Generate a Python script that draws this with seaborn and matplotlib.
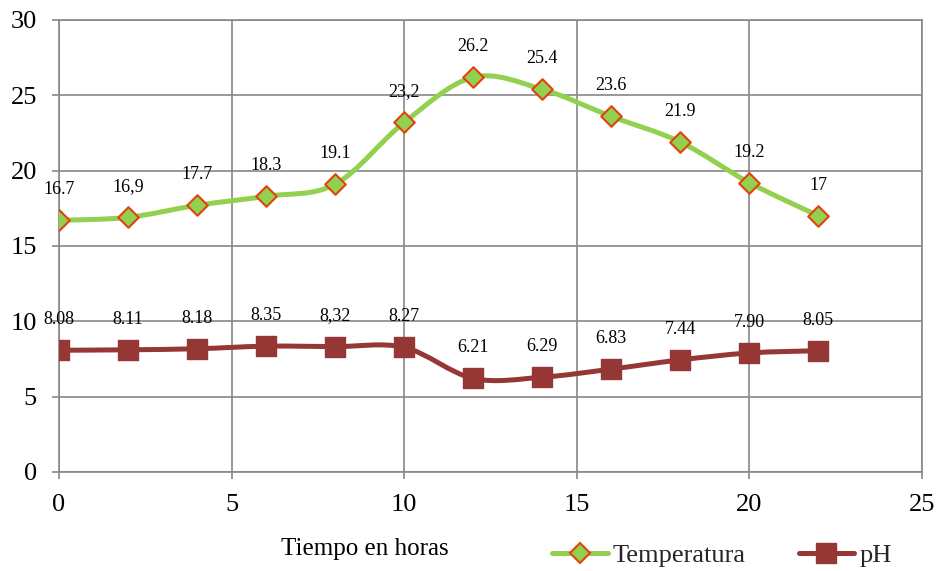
import numpy as np
import matplotlib
matplotlib.use("Agg")
import matplotlib.pyplot as plt
import seaborn as sns
from matplotlib.path import Path
from matplotlib.patches import PathPatch
from matplotlib.lines import Line2D

# ---- data ----
hours = [0, 2, 4, 6, 8, 10, 12, 14, 16, 18, 20, 22]
temperatura = [16.7, 16.9, 17.7, 18.3, 19.1, 23.2, 26.2, 25.4, 23.6, 21.9, 19.2, 17.0]
ph = [8.08, 8.11, 8.18, 8.35, 8.32, 8.27, 6.21, 6.29, 6.83, 7.44, 7.90, 8.05]
temp_labels = ["16.7", "16,9", "17.7", "18.3", "19.1", "23,2", "26.2", "25.4",
               "23.6", "21.9", "19.2", "17"]
ph_labels = ["8.08", "8.11", "8.18", "8.35", "8,32", "8.27", "6.21", "6.29",
             "6.83", "7.44", "7.90", "8.05"]
x_ticks = [0, 5, 10, 15, 20, 25]
y_ticks = [0, 5, 10, 15, 20, 25, 30]
series_names = ["Temperatura", "pH"]

# ---- style ----
GREEN = "#92D050"
ORANGE = "#E2420F"
DARKRED = "#953735"
GRID = "#878787"

sns.set_theme(style="white")
plt.rcParams['font.family'] = ['Liberation Serif', 'DejaVu Serif']

fig = plt.figure(figsize=(9.38, 5.71), dpi=100)
ax = fig.add_axes([0.0629, 0.1734, 0.920, 0.7916])


def smooth_path(xs, ys):
    pts = np.column_stack([xs, ys]).astype(float)
    n = len(pts)
    verts = [pts[0]]
    codes = [Path.MOVETO]
    for i in range(n - 1):
        p0 = pts[max(i - 1, 0)]
        p1 = pts[i]
        p2 = pts[i + 1]
        p3 = pts[min(i + 2, n - 1)]
        c1 = p1 + (p2 - p0) / 6.0
        c2 = p2 - (p3 - p1) / 6.0
        verts += [c1, c2, p2]
        codes += [Path.CURVE4] * 3
    return Path(verts, codes)


# smoothed lines
for ys, col in [(temperatura, GREEN), (ph, DARKRED)]:
    patch = PathPatch(smooth_path(hours, ys), fill=False, edgecolor=col, lw=3.6,
                      transform=ax.transData, capstyle='round', joinstyle='round', zorder=2)
    ax.add_patch(patch)

# markers
sns.scatterplot(x=hours, y=temperatura, marker='D', s=110, color=GREEN,
                edgecolor=ORANGE, linewidth=1.5, zorder=3, legend=False, ax=ax)
sns.scatterplot(x=hours, y=ph, marker='s', s=215, color=DARKRED,
                edgecolor=DARKRED, linewidth=1.0, zorder=3, legend=False, ax=ax)

# data labels
for xv, yv, lab in zip(hours, temperatura, temp_labels):
    ax.annotate(lab, (xv, yv), xytext=(0, 22), textcoords='offset points',
                ha='center', va='center', fontsize=13, color='black', zorder=4)
for xv, yv, lab in zip(hours, ph, ph_labels):
    ax.annotate(lab, (xv, yv), xytext=(0, 22), textcoords='offset points',
                ha='center', va='center', fontsize=13, color='black', zorder=4)

# axes
ax.set_xlim(0, 25)
ax.set_ylim(0, 30)
ax.set_xticks(x_ticks)
ax.set_yticks(y_ticks)
ax.grid(True, color=GRID, lw=1.2)
ax.set_axisbelow(True)
for sp in ax.spines.values():
    sp.set_visible(True)
    sp.set_color(GRID)
    sp.set_linewidth(1.2)
ax.tick_params(bottom=True, left=True, direction='out', length=5, width=1.2,
               color=GRID, pad=11, labelsize=19, labelcolor='black')

ax.set_xlabel("Tiempo en horas", fontsize=18, color='black')
ax.xaxis.set_label_coords(0.3546, -0.147)
ax.set_ylabel("")

# legend
handles = [
    Line2D([0], [0], color=GREEN, lw=3.6, marker='D', markersize=10,
           markerfacecolor=GREEN, markeredgecolor=ORANGE, markeredgewidth=1.5),
    Line2D([0], [0], color=DARKRED, lw=3.6, marker='s', markersize=14,
           markerfacecolor=DARKRED, markeredgecolor=DARKRED),
]
fig.legend(handles, series_names, loc='center', bbox_to_anchor=(722 / 938, 1 - 555 / 571),
           ncol=2, frameon=False, fontsize=19, handlelength=2.1, handletextpad=0.2,
           columnspacing=2.0, borderaxespad=0, borderpad=0)

fig.savefig("out.png", dpi=100)
